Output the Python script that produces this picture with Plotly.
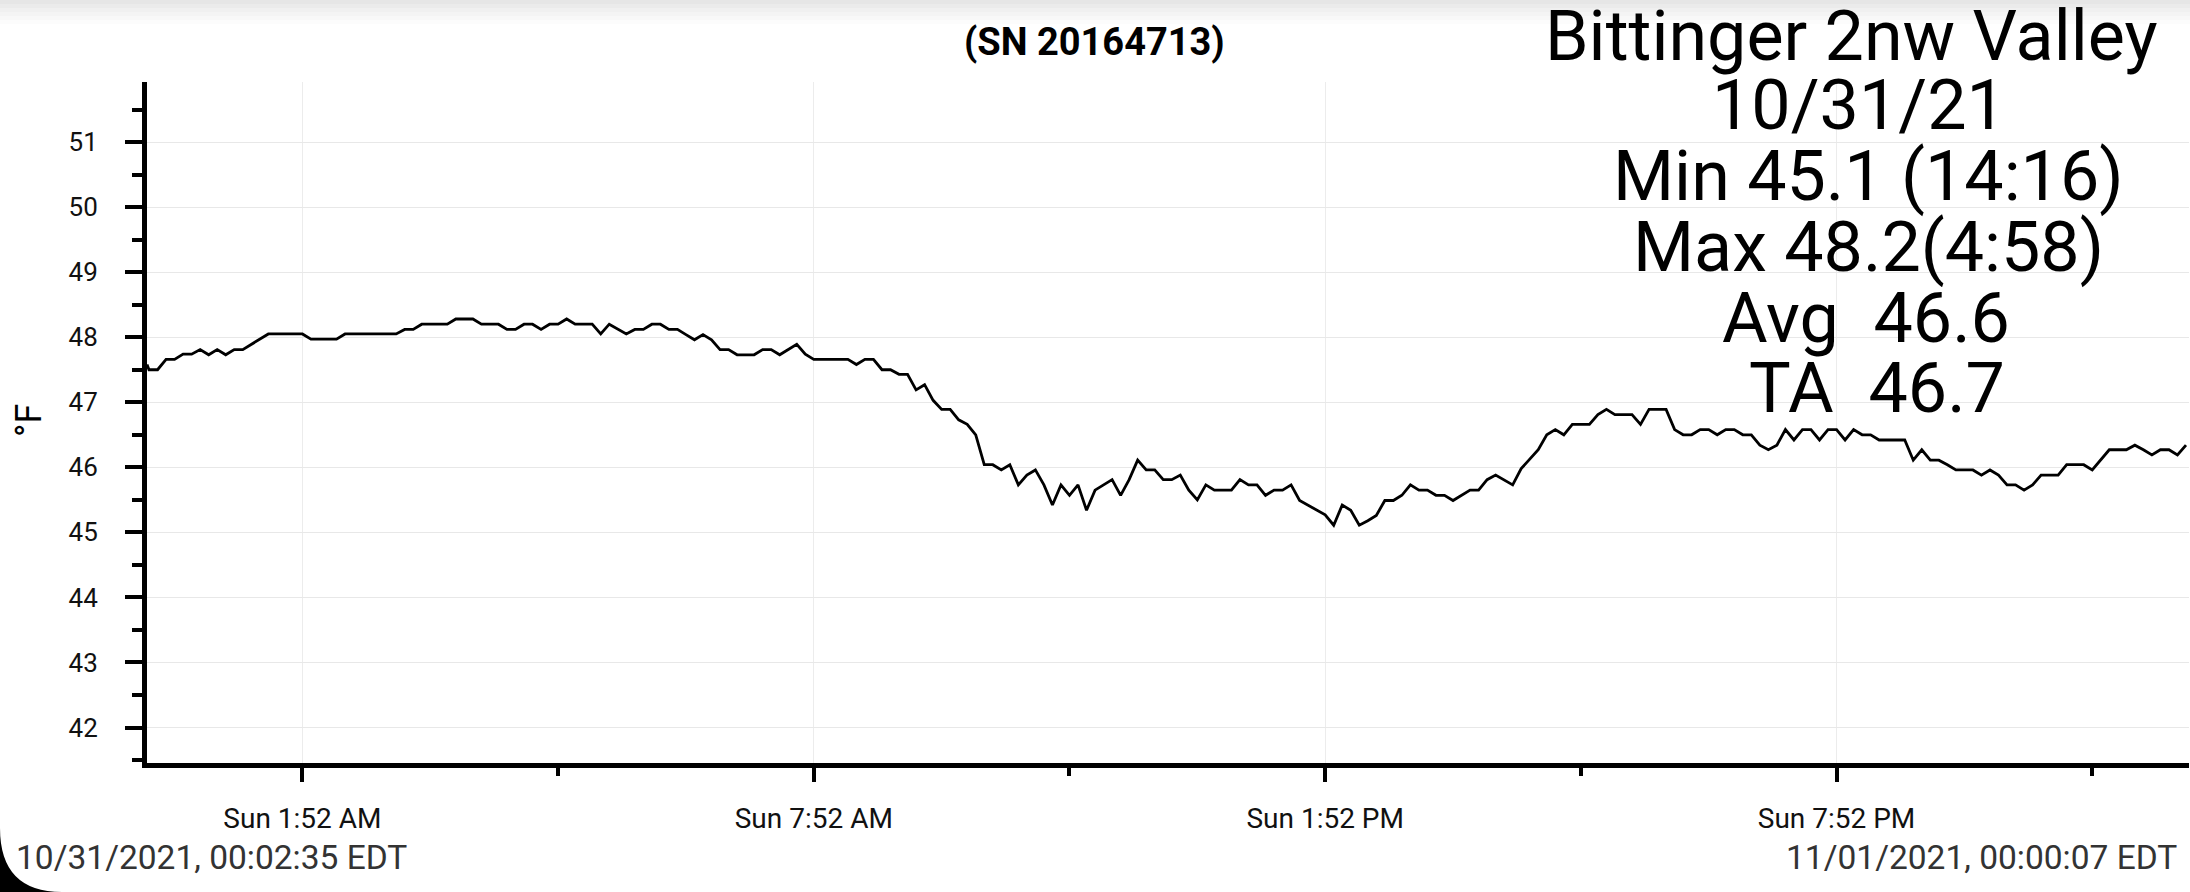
import pandas as pd
import plotly.graph_objects as go

# logger readings, 10/31/2021 (EDT), roughly every 6 minutes (turning points)
times = [
    "00:02:35", "00:04", "00:10", "00:16", "00:22", "00:28", "00:34", "00:40", "00:46", "00:52",
    "00:58", "01:04", "01:10", "01:28", "01:52", "01:58", "02:16", "02:22", "02:58", "03:04",
    "03:10", "03:16", "03:34", "03:40", "03:52", "03:58", "04:10", "04:16", "04:22", "04:28",
    "04:34", "04:40", "04:46", "04:52", "04:58", "05:04", "05:16", "05:22", "05:28", "05:40",
    "05:46", "05:52", "05:58",
    "06:04", "06:10", "06:16", "06:22", "06:28", "06:34", "06:40", "06:46", "06:52", "06:58",
    "07:10", "07:16", "07:22", "07:28", "07:34", "07:40", "07:46", "07:52",
    "08:16", "08:22", "08:28", "08:34", "08:40", "08:46", "08:52", "08:58",
    "09:04", "09:10", "09:16", "09:22", "09:28", "09:34", "09:40", "09:46", "09:52", "09:58",
    "10:04", "10:10", "10:16", "10:22", "10:28", "10:34", "10:40", "10:46", "10:52", "10:58",
    "11:04", "11:10", "11:16", "11:22", "11:28", "11:34", "11:40", "11:46", "11:52", "11:58",
    "12:04", "12:10", "12:16", "12:22", "12:28", "12:34", "12:46", "12:52", "12:58",
    "13:04", "13:10", "13:16", "13:22", "13:28", "13:34", "13:40", "13:46", "13:52", "13:58",
    "14:04", "14:10", "14:16", "14:22", "14:28", "14:34", "14:40", "14:46", "14:52", "14:58",
    "15:04", "15:10", "15:16", "15:22", "15:28", "15:34", "15:40", "15:46", "15:52", "15:58",
    "16:04", "16:10", "16:16", "16:22", "16:28", "16:34", "16:40", "16:46", "16:58",
    "17:04", "17:10", "17:16", "17:28", "17:34", "17:40", "17:52", "17:58",
    "18:04", "18:10", "18:16", "18:22", "18:28", "18:34", "18:40", "18:46", "18:52", "18:58",
    "19:04", "19:10", "19:16", "19:22", "19:28", "19:34", "19:40", "19:46", "19:52", "19:58",
    "20:04", "20:10", "20:16", "20:22", "20:40", "20:46", "20:52", "20:58",
    "21:04", "21:10", "21:16", "21:28", "21:34", "21:40", "21:46", "21:52", "21:58",
    "22:04", "22:10", "22:16", "22:28", "22:34", "22:46", "22:52", "22:58",
    "23:04", "23:16", "23:22", "23:28", "23:34", "23:40", "23:46", "23:52", "23:58",
]
temps = [
    47.58, 47.50, 47.50, 47.66, 47.66, 47.74, 47.74, 47.81, 47.73, 47.81,
    47.73, 47.81, 47.81, 48.05, 48.05, 47.97, 47.97, 48.05, 48.05, 48.12,
    48.12, 48.20, 48.20, 48.28, 48.28, 48.20, 48.20, 48.12, 48.12, 48.20,
    48.20, 48.12, 48.20, 48.20, 48.28, 48.20, 48.20, 48.05, 48.20, 48.05,
    48.12, 48.12, 48.20,
    48.20, 48.12, 48.12, 48.04, 47.96, 48.04, 47.96, 47.81, 47.81, 47.73,
    47.73, 47.81, 47.81, 47.73, 47.81, 47.89, 47.74, 47.66,
    47.66, 47.58, 47.66, 47.66, 47.50, 47.50, 47.43, 47.43,
    47.19, 47.27, 47.03, 46.89, 46.89, 46.73, 46.66, 46.50, 46.04, 46.04,
    45.96, 46.04, 45.73, 45.88, 45.96, 45.73, 45.42, 45.73, 45.57, 45.73,
    45.34, 45.65, 45.73, 45.81, 45.57, 45.81, 46.11, 45.96, 45.96, 45.81,
    45.81, 45.88, 45.65, 45.50, 45.73, 45.65, 45.65, 45.81, 45.73,
    45.73, 45.57, 45.65, 45.65, 45.73, 45.49, 45.42, 45.34, 45.27, 45.11,
    45.42, 45.34, 45.11, 45.18, 45.26, 45.49, 45.49, 45.57, 45.73, 45.65,
    45.65, 45.57, 45.57, 45.49, 45.57, 45.65, 45.65, 45.81, 45.88, 45.81,
    45.73, 45.98, 46.12, 46.27, 46.50, 46.58, 46.50, 46.66, 46.66,
    46.81, 46.89, 46.81, 46.81, 46.66, 46.89, 46.89, 46.58,
    46.50, 46.50, 46.58, 46.58, 46.50, 46.58, 46.58, 46.50, 46.50, 46.34,
    46.27, 46.34, 46.58, 46.42, 46.58, 46.58, 46.42, 46.58, 46.58, 46.42,
    46.58, 46.50, 46.50, 46.42, 46.42, 46.11, 46.27, 46.11,
    46.11, 46.04, 45.96, 45.96, 45.88, 45.96, 45.88, 45.73, 45.73,
    45.65, 45.73, 45.88, 45.88, 46.04, 46.04, 45.96, 46.11,
    46.27, 46.27, 46.34, 46.27, 46.19, 46.27, 46.27, 46.19, 46.34,
]

x_start = "2021-10-31 00:02:35"
x_end = "2021-11-01 00:00:07"
tick_vals = ["2021-10-31 01:52", "2021-10-31 07:52", "2021-10-31 13:52", "2021-10-31 19:52"]
tick_text = ["Sun 1:52 AM", "Sun 7:52 AM", "Sun 1:52 PM", "Sun 7:52 PM"]
minor_vals = ["2021-10-31 04:52", "2021-10-31 10:52", "2021-10-31 16:52", "2021-10-31 22:52"]

title_text = "(SN 20164713)"
info_lines = ["Bittinger 2nw Valley", "10/31/21", "Min 45.1 (14:16)",
              "Max 48.2(4:58)", "Avg\u00a0 46.6", "TA\u00a0 46.7"]
start_label = "10/31/2021, 00:02:35 EDT"
end_label = "11/01/2021, 00:00:07 EDT"

# page geometry (pixels)
W, H = 2190, 892
L, R, T, B = 147, 1, 82, 129
PW, PH = W - L - R, H - T - B


def paper(x, y):
    return (x - L) / PW, (H - B - y) / PH


x = pd.to_datetime(["2021-10-31 " + t for t in times], format="mixed")

fig = go.Figure()
fig.add_trace(go.Scatter(x=x, y=temps, mode="lines",
                         line=dict(color="black", width=2.8), showlegend=False))

# annotations
ann = []
tx, ty = paper(1094, 42)
ann.append(dict(x=tx, y=ty, text="<b>" + title_text + "</b>",
                font=dict(family="Roboto", size=38, color="black")))
info_x = [1851, 1859, 1868, 1868, 1866, 1877]
info_y = [36, 105, 176, 247, 318, 388]
for s, px_, py_ in zip(info_lines, info_x, info_y):
    ax_, ay_ = paper(px_, py_)
    ann.append(dict(x=ax_, y=ay_, text=s, font=dict(family="Roboto", size=70, color="black")))
lx, ly = paper(29, 421)
ann.append(dict(x=lx, y=ly, text="°F", textangle=-90,
                font=dict(family="Roboto", size=36, color="black")))
sx, sy = paper(14, 857)
ann.append(dict(x=sx, y=sy, text=start_label, xanchor="left",
                font=dict(family="Roboto", size=33.5, color="#333333")))
ex, ey = paper(2179, 857)
ann.append(dict(x=ex, y=ey, text=end_label, xanchor="right",
                font=dict(family="Roboto", size=33.5, color="#333333")))
for a in ann:
    a.setdefault("xanchor", "center")
    a.update(xref="paper", yref="paper", yanchor="middle", showarrow=False)

# screen decorations: top shadow and rounded corner
shapes = []
band_cols = ["#e6e6e6", "#ebebeb", "#f0f0f0", "#f4f4f4", "#f8f8f8", "#fcfcfc"]
for i, c in enumerate(band_cols):
    x0, y0 = paper(0, i * 4)
    x1, y1 = paper(W, i * 4 + 4)
    shapes.append(dict(type="rect", xref="paper", yref="paper", x0=x0, y0=y0, x1=x1, y1=y1,
                       fillcolor=c, line=dict(width=0), layer="below"))
c0 = paper(0, 828)
c1 = paper(0, 892)
c2 = paper(62, 892)
shapes.append(dict(type="path", xref="paper", yref="paper",
                   path=f"M {c0[0]},{c0[1]} Q {c1[0]},{c1[1]} {c2[0]},{c2[1]} L {c1[0]},{c1[1]} Z",
                   fillcolor="black", line=dict(width=0)))

fig.update_layout(
    width=W, height=H,
    margin=dict(l=L, r=R, t=T, b=B, pad=0),
    paper_bgcolor="white", plot_bgcolor="white",
    font=dict(family="Roboto", color="#111111"),
    annotations=ann, shapes=shapes,
    xaxis=dict(type="date", range=[x_start, x_end],
               tickmode="array", tickvals=tick_vals, ticktext=tick_text,
               ticks="outside", ticklen=14, tickwidth=3.5, tickcolor="black",
               tickfont=dict(size=28, color="#111111"), ticklabelstandoff=12,
               showline=True, linecolor="black", linewidth=5,
               showgrid=True, gridcolor="#ececec", gridwidth=1.3, zeroline=False,
               minor=dict(tickmode="array", tickvals=minor_vals, ticks="outside",
                          ticklen=8, tickwidth=3.5, tickcolor="black", showgrid=False)),
    yaxis=dict(range=[41.455, 51.923], tick0=0, dtick=1,
               ticks="outside", ticklen=17, tickwidth=3.5, tickcolor="black",
               tickfont=dict(size=26, color="#111111"), ticklabelstandoff=22,
               showline=True, linecolor="black", linewidth=5,
               showgrid=True, gridcolor="#e8e8e8", gridwidth=1.3, zeroline=False,
               minor=dict(dtick=0.5, ticks="outside", ticklen=10, tickwidth=3.5,
                          tickcolor="black", showgrid=False)),
)

fig.write_html("out.html", config={"displayModeBar": False},
               post_script="document.body.style.margin='0';")
